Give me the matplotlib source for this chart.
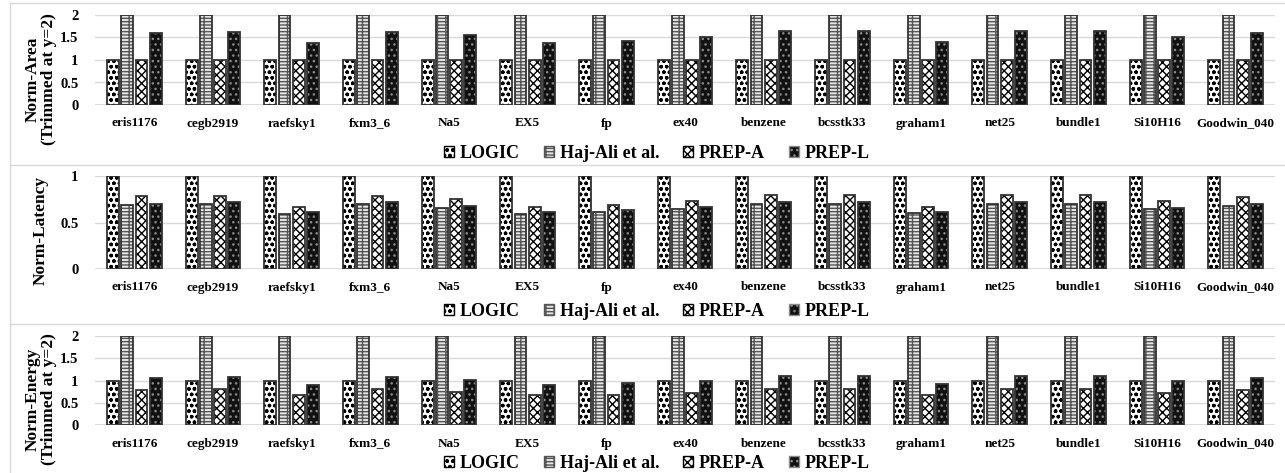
import matplotlib
matplotlib.use("Agg")
import matplotlib.pyplot as plt
from matplotlib.patches import Patch
from matplotlib.lines import Line2D
import numpy as np

plt.rcParams['font.family'] = ['Liberation Serif', 'DejaVu Serif']
plt.rcParams['font.weight'] = 'bold'
plt.rcParams['hatch.linewidth'] = 1.0

benchmarks = ['eris1176', 'cegb2919', 'raefsky1', 'fxm3_6', 'Na5', 'EX5', 'fp', 'ex40',
              'benzene', 'bcsstk33', 'graham1', 'net25', 'bundle1', 'Si10H16', 'Goodwin_040']
series = ['LOGIC', 'Haj-Ali et al.', 'PREP-A', 'PREP-L']

# area (Haj-Ali trimmed at y=2)
area_logic = [1] * 15
area_haj = [2] * 15
area_prepa = [1] * 15
area_prepl = [1.60, 1.63, 1.38, 1.63, 1.55, 1.38, 1.43, 1.52, 1.65, 1.65, 1.40, 1.65, 1.65, 1.50, 1.59]

# latency
lat_logic = [1] * 15
lat_haj = [0.69, 0.70, 0.59, 0.70, 0.66, 0.59, 0.61, 0.65, 0.70, 0.70, 0.60, 0.70, 0.70, 0.64, 0.68]
lat_prepa = [0.78, 0.79, 0.67, 0.79, 0.75, 0.67, 0.69, 0.73, 0.80, 0.80, 0.67, 0.80, 0.80, 0.73, 0.77]
lat_prepl = [0.70, 0.72, 0.61, 0.72, 0.68, 0.61, 0.63, 0.67, 0.72, 0.72, 0.61, 0.72, 0.72, 0.66, 0.70]

# energy (Haj-Ali trimmed at y=2)
en_logic = [1] * 15
en_haj = [2] * 15
en_prepa = [0.78, 0.80, 0.68, 0.80, 0.75, 0.68, 0.68, 0.73, 0.80, 0.80, 0.68, 0.80, 0.80, 0.73, 0.78]
en_prepl = [1.06, 1.08, 0.90, 1.08, 1.01, 0.90, 0.94, 1.00, 1.10, 1.10, 0.92, 1.10, 1.10, 0.99, 1.05]

# face, hatch colour, hatch
styles = [('white', 'black', 'ooo'),
          ('#e6e6e6', '#555555', '-----||'),
          ('white', 'black', 'xxxx'),
          ('#111111', '#8a8a8a', '...')]

W, H = 1285, 473
fig = plt.figure(figsize=(W / 100, H / 100), dpi=100)

# panel frames
for y in [3, 165, 324]:
    fig.add_artist(Line2D([10 / W, 1.0], [1 - y / H] * 2, color='#d9d9d9', lw=1))
fig.add_artist(Line2D([10 / W] * 2, [0, 1 - 3 / H], color='#d9d9d9', lw=1))


def panel(top, bottom, data, ymax, yticks, ylabel, lab_y, leg_y):
    ax = fig.add_axes([95 / W, 1 - bottom / H, 1180 / W, (bottom - top) / H])
    x = np.arange(len(benchmarks))
    step, bw = 0.182, 0.152
    for i, vals in enumerate(data):
        face, hc, hatch = styles[i]
        xs = x + (i - 1.5) * step
        ax.bar(xs, vals, bw, color=face, edgecolor=hc, hatch=hatch, lw=0, zorder=2)
        ax.bar(xs, vals, bw, fill=False, edgecolor='#333333', lw=1.3, zorder=3)
    ax.set_xlim(-0.5, len(benchmarks) - 0.5)
    ax.set_ylim(0, ymax)
    ax.set_yticks(yticks)
    ax.set_yticklabels([('%g' % t) for t in yticks], fontsize=10.5, fontweight='bold')
    ax.set_xticks(x)
    ax.set_xticklabels(benchmarks, fontsize=9.5, fontweight='bold')
    ax.tick_params(length=0, pad=9)
    ax.tick_params(axis='y', pad=12)
    ax.grid(axis='y', color='#d9d9d9', lw=1, zorder=0)
    for s in ['top', 'right', 'left', 'bottom']:
        ax.spines[s].set_visible(False)
    ax.axhline(0, color='#d9d9d9', lw=1.2, zorder=1)
    fig.text(41 / W, 1 - lab_y / H, ylabel, rotation=90, ha='center', va='center',
             fontsize=12.5, fontweight='bold', linespacing=1.0, multialignment='center')
    handles = [Patch(facecolor=styles[i][0], edgecolor=styles[i][1], hatch=styles[i][2])
               for i in range(4)]
    fig.legend(handles, series, loc='center', bbox_to_anchor=(657 / W, 1 - leg_y / H),
               ncol=4, frameon=False, prop={'weight': 'bold', 'size': 13},
               handlelength=0.55, handleheight=0.55, handletextpad=0.3, columnspacing=1.35)
    return ax


panel(15, 105, [area_logic, area_haj, area_prepa, area_prepl], 2,
      [0, 0.5, 1, 1.5, 2], 'Norm-Area\n(Trimmed at y=2)', 79, 153)
panel(176, 269, [lat_logic, lat_haj, lat_prepa, lat_prepl], 1,
      [0, 0.5, 1], 'Norm-Latency', 230, 311)
panel(336, 425, [en_logic, en_haj, en_prepa, en_prepl], 2,
      [0, 0.5, 1, 1.5, 2], 'Norm-Energy\n(Trimmed at y=2)', 399, 463)

fig.savefig('out.png', dpi=100)
